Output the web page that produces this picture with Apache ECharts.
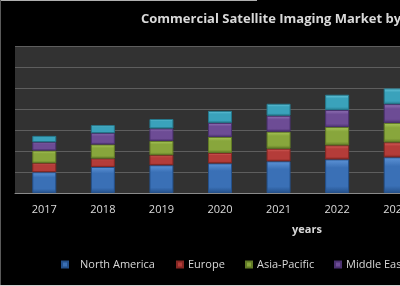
<!DOCTYPE html>
<html lang="en">
<head>
    <meta charset="UTF-8">
    <title>Commercial Satellite Imaging Market</title>
    <script src="https://cdn.jsdelivr.net/npm/echarts@6/dist/echarts.min.js"></script>
    <style>
        html, body { margin: 0; padding: 0; background: #000; overflow: hidden; }
    </style>
</head>
<body>
<!-- the original picture is cropped on the right, so the chart runs past the window -->
<div id="container" style="width: 440px; height: 286px"></div>

<script type="text/javascript">
    var years = ['2017', '2018', '2019', '2020', '2021', '2022', '2023'];
    var northAmerica = [0.99, 1.24, 1.32, 1.41, 1.51, 1.60, 1.70];
    var europe = [0.43, 0.40, 0.48, 0.50, 0.60, 0.67, 0.71];
    var asiaPacific = [0.60, 0.67, 0.68, 0.76, 0.81, 0.87, 0.93];
    var middleEast = [0.40, 0.54, 0.59, 0.67, 0.76, 0.81, 0.89];
    var latinAmerica = [0.30, 0.38, 0.45, 0.57, 0.57, 0.73, 0.75];

    var regions = [
        { name: 'North America', data: northAmerica, top: '#5d93d6', mid: '#3a70b6', bot: '#24508a' },
        { name: 'Europe', data: europe, top: '#d8625e', mid: '#b43c39', bot: '#862723' },
        { name: 'Asia-Pacific', data: asiaPacific, top: '#aac85c', mid: '#88a63c', bot: '#617a26' },
        { name: 'Middle East & Africa', data: middleEast, top: '#9475b8', mid: '#6d4c95', bot: '#4b3170' },
        { name: 'Latin America', data: latinAmerica, top: '#6cc8dc', mid: '#3aa2bb', bot: '#24788c' }
    ];
    var legendLeft = [61, 176, 245, 334, 470];

    var dom = document.getElementById('container');
    var myChart = echarts.init(dom, null, { renderer: 'canvas' });

    var series = regions.map(function (r) {
        return {
            name: r.name,
            type: 'bar',
            stack: 'total',
            barWidth: 24,
            data: r.data,
            itemStyle: {
                color: new echarts.graphic.LinearGradient(0, 0, 0, 1, [
                    { offset: 0, color: r.top },
                    { offset: 0.25, color: r.mid },
                    { offset: 0.8, color: r.mid },
                    { offset: 1, color: r.bot }
                ]),
                borderColor: r.bot,
                borderWidth: 1
            }
        };
    });

    var legends = regions.map(function (r, i) {
        return {
            data: [r.name],
            left: legendLeft[i],
            top: 259,
            padding: 0,
            itemWidth: 6,
            itemHeight: 6,
            icon: 'rect',
            textStyle: {
                color: '#d8d8d8',
                fontFamily: 'Open Sans',
                fontSize: 11,
                padding: i === 0 ? [0, 0, 0, 7] : 0
            }
        };
    });

    var option = {
        backgroundColor: '#000',
        animation: false,
        title: {
            text: 'Commercial Satellite Imaging Market by Region',
            left: 141,
            top: 13,
            padding: 0,
            textStyle: {
                color: '#d9d9d9',
                fontFamily: 'Open Sans',
                fontWeight: 'bold',
                fontSize: 13
            }
        },
        legend: legends,
        grid: {
            show: true,
            left: 15,
            top: 46,
            width: 410,
            height: 147,
            backgroundColor: '#323232',
            borderWidth: 0
        },
        xAxis: {
            type: 'category',
            data: years,
            axisLine: { lineStyle: { color: '#8a8a8a', width: 1 } },
            axisTick: { length: 4, lineStyle: { color: '#8a8a8a' } },
            axisLabel: {
                color: '#dcdcdc',
                fontFamily: 'Open Sans',
                fontSize: 11,
                margin: 11
            }
        },
        yAxis: {
            type: 'value',
            min: 0,
            max: 7,
            interval: 1,
            axisLine: { show: false },
            axisTick: { show: false },
            axisLabel: { show: false },
            splitLine: { lineStyle: { color: '#5e5e5e', width: 1 } }
        },
        graphic: [
            {
                type: 'text',
                left: 292,
                top: 224,
                style: {
                    text: 'years',
                    fill: '#d8d8d8',
                    font: 'bold 11px "Open Sans"'
                }
            },
            {
                type: 'rect',
                shape: { x: 0, y: 0, width: 257, height: 1 },
                style: { fill: '#b0b0b0' }
            },
            {
                type: 'rect',
                shape: { x: 0, y: 0, width: 1, height: 286 },
                style: { fill: '#5a5a5a' }
            },
            {
                type: 'rect',
                shape: { x: 0, y: 285, width: 440, height: 1 },
                style: { fill: '#d0d0d0' }
            }
        ],
        series: series
    };

    myChart.setOption(option);
    window.addEventListener('resize', myChart.resize);
</script>
</body>
</html>
